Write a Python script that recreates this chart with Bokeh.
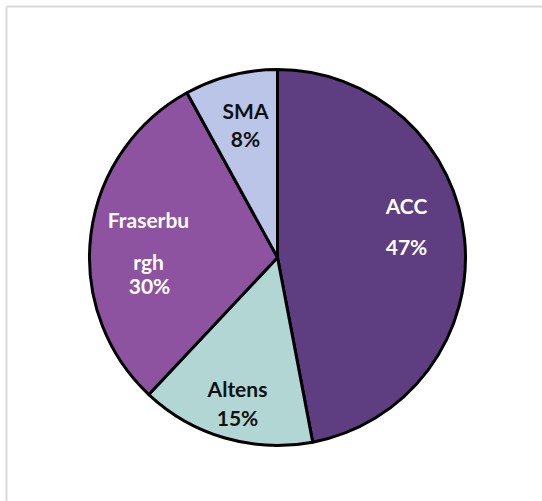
import math

from bokeh.plotting import figure
from bokeh.models import Range1d
from bokeh.core.properties import value
from bokeh.embed import file_html
from bokeh.resources import INLINE

# Share of work by site (percent)
sites = ["ACC", "Altens", "Fraserburgh", "SMA"]
shares = [47, 15, 30, 8]

# Label lines for each slice (long names wrap onto two lines)
name_lines = [["ACC"], ["Altens"], ["Fraserbu", "rgh"], ["SMA"]]

# Styling
slice_colors = ["#5E3E81", "#B1D6D4", "#8E53A0", "#BAC5E7"]
label_colors = ["#FFFFFF", "#111111", "#FFFFFF", "#111111"]

W, H = 542, 501
CX, CY, R = 277, H - 257, 188

# Label anchors (x, baseline from top) for the name lines and the percent line
name_pos = [[(406, 205)], [(237, 388)], [(148, 219), (148, 261)], [(245, 110)]]
pct_pos = [(406, 246), (237, 417), (149, 285), (245, 138)]

p = figure(width=W, height=H, x_range=Range1d(0, W), y_range=Range1d(0, H),
           min_border=0, toolbar_location=None, output_backend="svg")
p.axis.visible = False
p.grid.visible = False
p.outline_line_color = None
p.background_fill_color = "white"
p.border_fill_color = "white"

# Thin grey frame along the top and left edges
p.segment(x0=[6, 6], y0=[H - 6, H - 6], x1=[6, W], y1=[0, H - 6],
          line_color="#D9D9D9", line_width=2)

# Pie slices, clockwise from twelve o'clock
total = float(sum(shares))
cum = 0.0
starts, ends = [], []
for s in shares:
    a0 = cum / total
    cum += s
    a1 = cum / total
    starts.append(math.pi / 2 - 2 * math.pi * a1)
    ends.append(math.pi / 2 - 2 * math.pi * a0)

p.wedge(x=CX, y=CY, radius=R, start_angle=starts, end_angle=ends,
        fill_color=slice_colors, line_color="black", line_width=3,
        direction="anticlock")

# Labels
xs, ys, txt, cols = [], [], [], []
for i, s in enumerate(shares):
    for line, (lx, ly) in zip(name_lines[i], name_pos[i]):
        xs.append(lx); ys.append(H - ly); txt.append(line); cols.append(label_colors[i])
    lx, ly = pct_pos[i]
    xs.append(lx); ys.append(H - ly); txt.append(f"{s}%"); cols.append(label_colors[i])

p.text(x=xs, y=ys, text=txt, text_color=cols, text_align="center",
       text_baseline="alphabetic", text_font=value("Lato"),
       text_font_style="bold", text_font_size="21px")

open("out.html", "w").write(file_html(p, INLINE))
